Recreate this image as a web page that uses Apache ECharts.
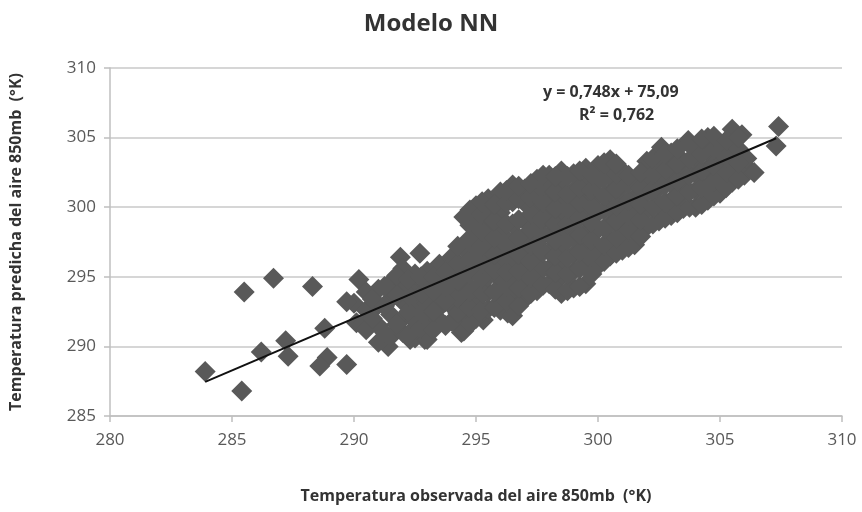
<!DOCTYPE html>
<html>
<head>
<meta charset="utf-8">
<script src="https://cdn.jsdelivr.net/npm/echarts@6/dist/echarts.min.js"></script>
<style>html,body{margin:0;padding:0;background:#fff}#c{width:862px;height:512px}</style>
</head>
<body>
<div id="c"></div>
<script>
const chartTitle = "Modelo NN";
const xAxisName = "Temperatura observada del aire 850mb  (°K)";
const yAxisName = "Temperatura predicha del aire 850mb  (°K)";
const xTicks = [280, 285, 290, 295, 300, 305, 310];
const yTicks = [285, 290, 295, 300, 305, 310];
const trendSlope = 0.748;
const trendIntercept = 75.09;
const trendXRange = [283.9, 307.3];
const eqText = "y = 0,748x + 75,09";
const r2Text = "R² = 0,762";

const observed = [
283.9,285.4,285.5,286.7,286.2,287.2,287.3,288.3,288.8,288.9,288.6,289.7,290.2,290.0,290.1,289.7,
290.4,291.4,292.3,292.9,291.9,292.7,294.3,294.4,295.3,296.3,294.7,296.0,
290.5,290.5,290.5,291.0,291.0,291.0,291.0,291.5,291.5,291.5,291.5,
292.0,292.0,292.0,292.0,292.0,292.5,292.5,292.5,292.5,292.5,
293.0,293.0,293.0,293.0,293.0,293.5,293.5,293.5,293.5,293.5,
294.0,294.0,294.0,294.0,294.0,294.5,294.5,294.5,294.5,294.5,294.5,294.5,
295.0,295.0,295.0,295.0,295.0,295.0,295.0,295.0,
295.5,295.5,295.5,295.5,295.5,295.5,295.5,295.5,
296.0,296.0,296.0,296.0,296.0,296.0,296.0,296.0,
296.5,296.5,296.5,296.5,296.5,296.5,296.5,296.5,
297.0,297.0,297.0,297.0,297.0,297.0,297.0,297.0,
297.5,297.5,297.5,297.5,297.5,297.5,297.5,297.5,
298.0,298.0,298.0,298.0,298.0,298.0,298.0,298.0,
298.5,298.5,298.5,298.5,298.5,298.5,298.5,298.5,298.5,
299.0,299.0,299.0,299.0,299.0,299.0,299.0,299.0,
299.5,299.5,299.5,299.5,299.5,299.5,299.5,299.5,
300.0,300.0,300.0,300.0,300.0,300.0,300.0,
300.5,300.5,300.5,300.5,300.5,300.5,300.5,
301.0,301.0,301.0,301.0,301.0,301.0,
301.5,301.5,301.5,301.5,301.5,
302.0,302.0,302.0,302.0,302.0,
302.5,302.5,302.5,302.5,302.5,302.6,
303.0,303.0,303.0,303.0,303.0,
303.5,303.5,303.5,303.5,303.7,
304.0,304.0,304.0,304.0,304.2,
304.5,304.5,304.5,304.5,304.5,
305.0,305.0,305.0,305.0,305.5,
305.5,305.5,305.5,305.9,
306.0,306.2,306.4,306.1,
307.3,307.4
];
const predicted = [
288.2,286.8,293.9,294.9,289.6,290.4,289.3,294.3,291.3,289.2,288.6,288.7,294.8,293.1,291.7,293.2,
291.7,290.0,290.5,290.5,296.4,296.7,291.4,291.0,291.9,292.4,297.7,298.2,
291.2,292.6,293.9,290.3,291.5,293.0,294.1,290.7,292.3,293.4,294.6,
291.0,292.0,293.2,294.3,295.6,290.6,291.8,292.9,294.0,295.2,
290.5,291.7,293.1,294.4,295.4,291.9,292.8,293.6,294.8,295.9,
291.8,292.9,294.1,295.3,296.4,291.1,292.4,293.5,294.6,295.8,297.0,299.3,
292.0,293.3,294.2,295.4,296.6,297.8,298.9,300.1,
292.7,293.9,295.0,296.1,297.2,298.5,299.6,300.6,
292.6,293.6,294.8,296.0,297.0,298.1,299.6,301.1,
292.2,293.8,295.1,296.3,297.6,298.8,300.4,301.6,
293.4,294.6,295.7,296.8,297.9,299.0,300.3,301.3,
294.0,295.2,296.4,297.4,298.6,299.7,301.0,302.0,
294.5,295.6,296.8,298.0,299.1,300.2,301.4,302.3,
293.8,295.0,296.2,297.3,298.5,299.6,300.8,301.9,302.6,
294.2,295.4,296.6,297.8,299.0,300.1,301.2,302.4,
294.5,295.9,297.0,298.2,299.3,300.5,301.6,302.8,
295.8,297.1,298.4,299.6,300.8,301.9,303.0,
296.5,297.6,298.8,299.9,301.1,302.2,303.4,
296.9,298.0,299.2,300.3,301.5,302.6,
297.3,298.5,299.7,300.7,301.8,
298.6,299.8,301.0,302.2,303.3,
299.0,300.2,301.4,302.5,303.6,304.3,
299.4,300.5,301.7,302.8,303.9,
299.9,301.0,302.1,303.3,304.8,
300.0,301.2,302.4,303.6,304.7,
300.5,301.6,302.8,304.0,305.0,
301.0,302.1,303.2,304.3,305.6,
301.8,302.9,304.0,305.2,
302.3,302.7,302.5,303.5,
304.4,305.8
];

const observedDense = [
294.25,294.25,294.25,294.25,294.25,
294.75,294.75,294.75,294.75,294.75,294.75,294.75,294.75,
295.25,295.25,295.25,295.25,295.25,295.25,295.25,295.25,
295.75,295.75,295.75,295.75,295.75,295.75,295.75,
296.25,296.25,296.25,296.25,296.25,296.25,296.25,296.25,
296.75,296.75,296.75,296.75,296.75,296.75,296.75,296.75,
297.25,297.25,297.25,297.25,297.25,297.25,297.25,297.25,
297.75,297.75,297.75,297.75,297.75,297.75,297.75,297.75,
298.25,298.25,298.25,298.25,298.25,298.25,298.25,298.25,
298.75,298.75,298.75,298.75,298.75,298.75,298.75,298.75,
299.25,299.25,299.25,299.25,299.25,299.25,299.25,299.25,
299.75,299.75,299.75,299.75,299.75,299.75,299.75,
300.25,300.25,300.25,300.25,300.25,300.25,300.25,
300.75,300.75,300.75,300.75,300.75,300.75,300.75,
301.25,301.25,301.25,301.25,301.25,301.25,
301.75,301.75,301.75,301.75,301.75,
302.25,302.25,302.25,302.25,302.25,
302.75,302.75,302.75,302.75,302.75,
303.25,303.25,303.25,303.25,303.25,
303.75,303.75,303.75,303.75,303.75,
304.25,304.25,304.25,304.25,304.25,
304.75,304.75,304.75,304.75,304.75,
305.25,305.25,305.25,305.25,
305.75,305.75,305.75,305.75,
290.75,290.75,
291.25,291.25,291.25,
291.75,291.75,291.75,
292.25,292.25,292.25,292.25,
292.75,292.75,292.75,292.75,
293.25,293.25,293.25,293.25,
293.75,293.75,293.75,293.75
];
const predictedDense = [
292.4,293.5,294.7,295.9,297.2,
291.6,292.8,294.0,295.2,296.3,297.5,298.7,299.8,
292.6,293.8,294.9,296.0,297.2,298.3,299.5,300.4,
292.8,293.9,295.5,296.6,297.8,299.0,300.2,
293.2,294.3,295.4,296.6,297.6,298.8,300.3,301.2,
292.9,294.2,295.4,296.6,297.8,299.1,300.6,301.5,
293.8,295.0,296.1,297.3,298.4,299.5,300.7,301.7,
294.4,295.6,296.8,298.0,299.2,300.4,301.6,302.3,
294.1,295.3,296.5,297.6,298.8,299.9,301.1,302.2,
294.0,295.2,296.4,297.6,298.8,299.9,301.0,302.2,
294.3,295.6,296.8,298.0,299.2,300.3,301.4,302.6,
295.2,296.5,297.6,298.9,300.0,301.2,302.3,
296.1,297.3,298.5,299.8,300.9,302.1,303.2,
296.7,297.8,299.0,300.1,301.3,302.4,303.1,
297.1,298.3,299.4,300.5,301.7,302.3,
297.9,299.1,300.2,301.4,302.5,
298.8,300.0,301.2,302.4,303.5,
299.2,300.4,301.6,302.7,303.8,
299.6,300.8,301.9,303.1,304.2,
300.0,301.1,302.3,303.4,304.5,
300.2,301.4,302.6,303.8,304.9,
300.8,301.9,303.0,304.2,305.1,
301.4,302.5,303.6,304.8,
302.0,303.2,304.2,305.0,
292.0,293.4,
291.0,292.9,294.3,
291.6,293.7,295.1,
290.9,292.5,293.6,294.8,
291.3,292.4,293.8,295.0,
291.2,292.5,294.0,295.0,
291.5,293.2,294.3,295.4
];

const allX = observed.concat(observedDense);
const allY = predicted.concat(predictedDense);
const points = allX.map((x, i) => [x, allY[i]]);
const trendPoints = trendXRange.map(x => [x, trendSlope * x + trendIntercept]);

const chart = echarts.init(document.getElementById('c'), null, {renderer: 'canvas'});
const labelFont = "Open Sans";
chart.setOption({
  animation: false,
  backgroundColor: '#ffffff',
  title: {
    text: chartTitle, left: 'center', top: 7,
    textStyle: {fontFamily: labelFont, fontSize: 24, fontWeight: 'bold', color: '#333333'}
  },
  grid: {left: 110, right: 20, top: 68, bottom: 96, containLabel: false},
  xAxis: {
    type: 'value', min: xTicks[0], max: xTicks[xTicks.length - 1], interval: 5,
    name: xAxisName, nameLocation: 'middle', nameGap: 72,
    nameTextStyle: {fontFamily: labelFont, fontSize: 16, fontWeight: 'bold', color: '#333333'},
    axisLine: {show: true, lineStyle: {color: '#bfbfbf', width: 1.5}},
    axisTick: {show: true, length: 6, lineStyle: {color: '#bfbfbf', width: 1.5}},
    axisLabel: {fontFamily: labelFont, fontSize: 17, color: '#595959', margin: 16},
    splitLine: {show: false}
  },
  yAxis: {
    type: 'value', min: yTicks[0], max: yTicks[yTicks.length - 1], interval: 5,
    name: yAxisName, nameLocation: 'middle', nameGap: 86, nameRotate: 90,
    nameTextStyle: {fontFamily: labelFont, fontSize: 16, fontWeight: 'bold', color: '#333333'},
    axisLine: {show: true, lineStyle: {color: '#bfbfbf', width: 1.5}},
    axisTick: {show: true, length: 6, lineStyle: {color: '#bfbfbf', width: 1.5}},
    axisLabel: {fontFamily: labelFont, fontSize: 17, color: '#595959', margin: 14},
    splitLine: {show: true, lineStyle: {color: '#c8c8c8', width: 1.5}}
  },
  series: [
    {
      type: 'scatter', data: points, symbol: 'diamond', symbolSize: 21,
      itemStyle: {color: '#595959', opacity: 1}, z: 2
    },
    {
      type: 'line', data: trendPoints, symbol: 'none',
      lineStyle: {color: '#111111', width: 2}, z: 3
    }
  ],
  graphic: [
    {type: 'text', left: 543, top: 84, style: {text: eqText, fontFamily: labelFont, fontSize: 16, fontWeight: 'bold', fill: '#333333'}},
    {type: 'text', left: 579, top: 107, style: {text: r2Text, fontFamily: labelFont, fontSize: 16, fontWeight: 'bold', fill: '#333333'}}
  ]
});
</script>
</body>
</html>
